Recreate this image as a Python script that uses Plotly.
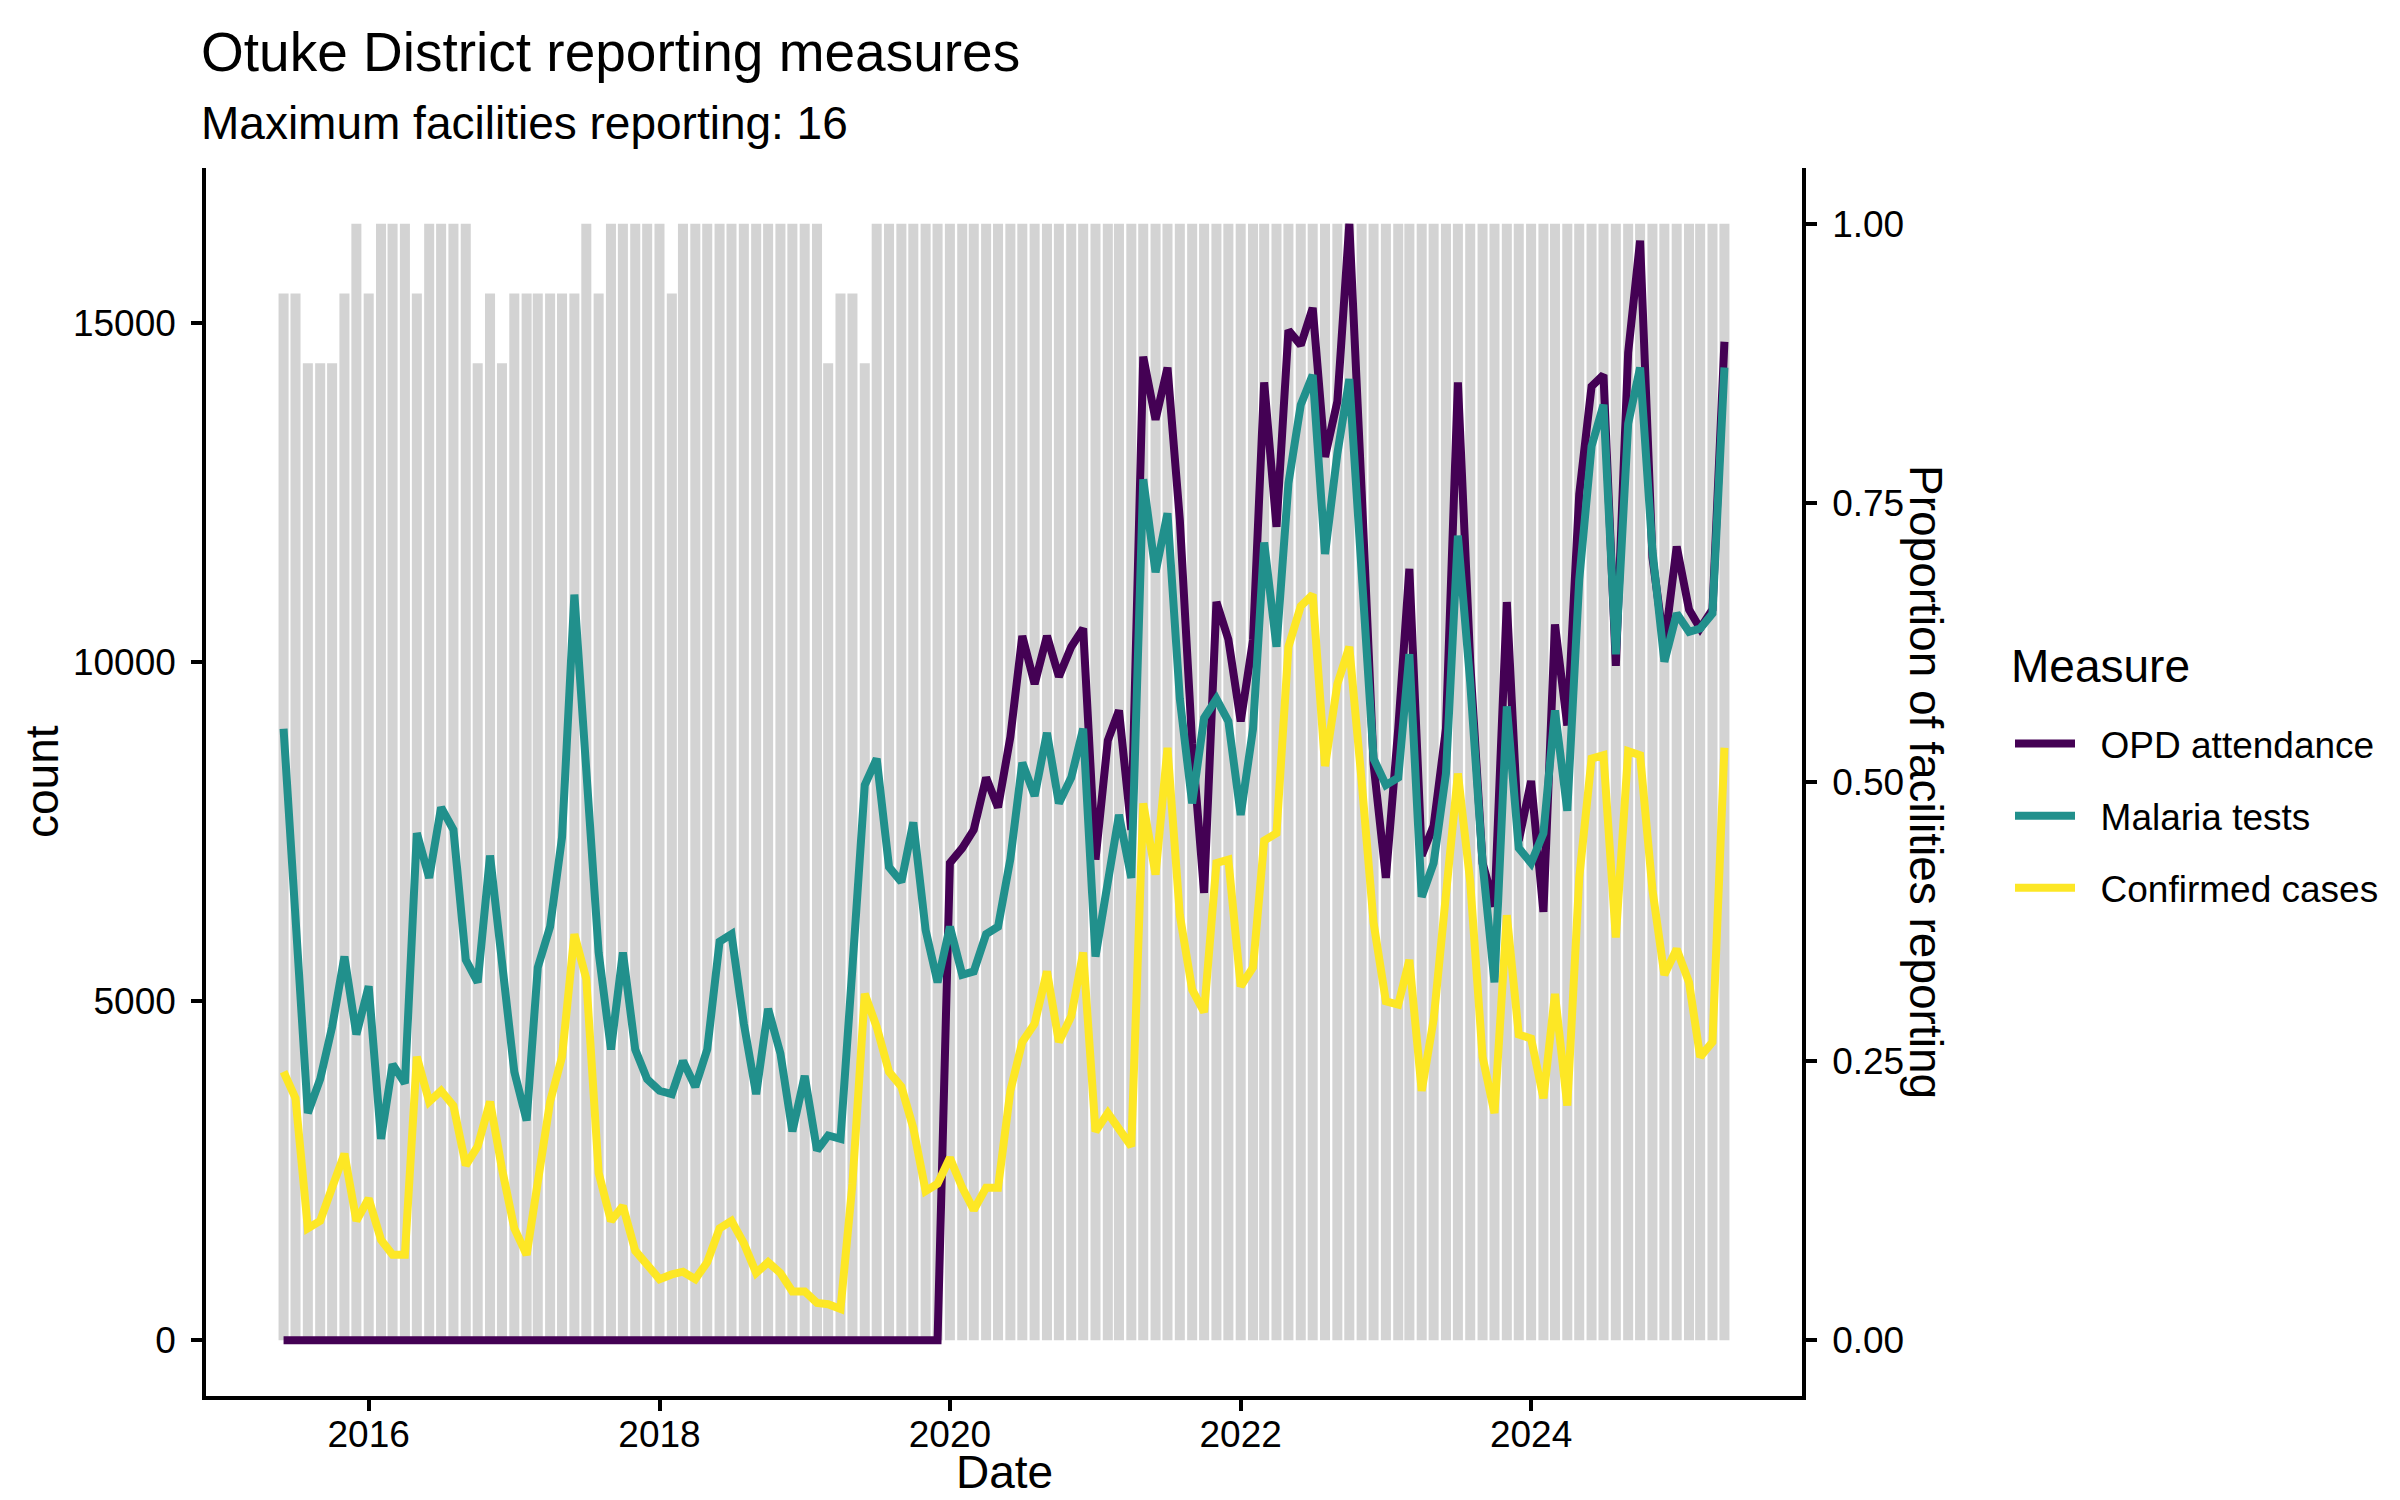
import pandas as pd
import plotly.graph_objects as go

# ---------------- data ----------------
months = pd.date_range("2015-06-01", periods=120, freq="MS")
max_facilities = 16

facilities_reporting = [
    15, 15, 14, 14, 14, 15, 16, 15, 16, 16,
    16, 15, 16, 16, 16, 16, 14, 15, 14, 15,
    15, 15, 15, 15, 15, 16, 15, 16, 16, 16,
    16, 16, 15, 16, 16, 16, 16, 16, 16, 16,
    16, 16, 16, 16, 16, 14, 15, 15, 14, 16,
    16, 16, 16, 16, 16, 16, 16, 16, 16, 16,
    16, 16, 16, 16, 16, 16, 16, 16, 16, 16,
    16, 16, 16, 16, 16, 16, 16, 16, 16, 16,
    16, 16, 16, 16, 16, 16, 16, 16, 16, 16,
    16, 16, 16, 16, 16, 16, 16, 16, 16, 16,
    16, 16, 16, 16, 16, 16, 16, 16, 16, 16,
    16, 16, 16, 16, 16, 16, 16, 16, 16, 16,
]

opd_attendance = [
    0, 0, 0, 0, 0, 0, 0, 0, 0, 0,
    0, 0, 0, 0, 0, 0, 0, 0, 0, 0,
    0, 0, 0, 0, 0, 0, 0, 0, 0, 0,
    0, 0, 0, 0, 0, 0, 0, 0, 0, 0,
    0, 0, 0, 0, 0, 0, 0, 0, 0, 0,
    0, 0, 0, 0, 0, 7040, 7260, 7530, 8300, 7860,
    8900, 10390, 9680, 10390, 9790, 10230, 10500, 7090, 8850, 9290,
    7530, 14510, 13580, 14350, 12100, 8800, 6600, 10890, 10340, 9130,
    10330, 14130, 12000, 14900, 14680, 15230, 13030, 13850, 16470, 12530,
    8500, 6820, 9020, 11380, 7150, 7590, 9020, 14130, 10000, 7040,
    6400, 10890, 7370, 8250, 6320, 10560, 9070, 12480, 14070, 14240,
    9950, 14570, 16220, 11550, 10230, 11710, 10780, 10500, 10780, 14730,
]

malaria_tests = [
    9020, 6300, 3350, 3850, 4620, 5660, 4510, 5220, 2970, 4070,
    3790, 7480, 6820, 7860, 7530, 5610, 5280, 7150, 5610, 3960,
    3240, 5500, 6100, 7420, 11000, 8190, 5720, 4290, 5720, 4290,
    3850, 3680, 3630, 4120, 3740, 4290, 5880, 5990, 4670, 3630,
    4890, 4230, 3080, 3900, 2800, 3020, 2970, 5500, 8190, 8580,
    6980, 6760, 7640, 6050, 5280, 6100, 5390, 5440, 5990, 6100,
    7100, 8520, 8030, 8960, 7920, 8300, 9020, 5660, 6710, 7750,
    6820, 12700, 11330, 12200, 9460, 7920, 9180, 9460, 9130, 7750,
    9020, 11770, 10230, 12640, 13800, 14240, 11600, 13080, 14180, 11330,
    8580, 8190, 8300, 10120, 6540, 7040, 8360, 11870, 9700, 7040,
    5280, 9350, 7260, 7040, 7480, 9290, 7810, 11220, 13190, 13800,
    10120, 13520, 14350, 11650, 10010, 10720, 10450, 10500, 10720, 14350,
]

confirmed_cases = [
    3960, 3570, 1650, 1760, 2250, 2750, 1760, 2090, 1480, 1260,
    1260, 4180, 3520, 3680, 3460, 2580, 2860, 3520, 2530, 1650,
    1260, 2420, 3520, 4180, 5990, 5330, 2470, 1760, 1980, 1320,
    1100, 900, 970, 1010, 900, 1150, 1650, 1760, 1430, 990,
    1150, 990, 720, 720, 550, 530, 460, 2310, 5110, 4620,
    3960, 3740, 3130, 2200, 2310, 2690, 2250, 1920, 2250, 2250,
    3680, 4400, 4670, 5440, 4400, 4780, 5720, 3080, 3350, 3130,
    2860, 7920, 6870, 8740, 6270, 5170, 4840, 7040, 7090, 5220,
    5500, 7370, 7480, 10230, 10830, 11000, 8470, 9680, 10230, 8250,
    6160, 5000, 4950, 5610, 3680, 4730, 6600, 8360, 6760, 4180,
    3350, 6270, 4510, 4450, 3570, 5110, 3460, 6820, 8580, 8630,
    5940, 8690, 8630, 6650, 5390, 5770, 5280, 4180, 4400, 8740,
]

series_names = ["OPD attendance", "Malaria tests", "Confirmed cases"]
series_values = [opd_attendance, malaria_tests, confirmed_cases]
series_colors = ["#440154", "#21908C", "#FDE725"]

x_tick_years = ["2016", "2018", "2020", "2022", "2024"]
count_ticks = [0, 5000, 10000, 15000]
prop_ticks = [0.0, 0.25, 0.5, 0.75, 1.0]

# ---------------- figure ----------------
W, H = 2400, 1500
L, R, T, B = 198, 606, 160, 112
pw, ph = W - L - R, H - T - B

def px_x(px):
    return (px - L) / pw

def px_y(py):
    return (H - B - py) / ph

FONT = "Liberation Sans, Arial, sans-serif"
count_max = max(max(v) for v in series_values)
proportion = [f / max_facilities for f in facilities_reporting]
bar_width_ms = 25.2 * 24 * 3600 * 1000
NB = "\u00a0\u00a0"

fig = go.Figure()
fig.add_trace(go.Bar(
    x=months, y=proportion, yaxis="y",
    marker=dict(color="#D3D3D3", line=dict(width=0)),
    width=[bar_width_ms] * len(months),
    showlegend=False, hoverinfo="skip",
))
for name, vals, col in zip(series_names, series_values, series_colors):
    fig.add_trace(go.Scatter(
        x=months, y=vals, yaxis="y2", mode="lines", name=NB + name,
        legendgroup=name,
        line=dict(color=col, width=8),
    ))

axis_common = dict(
    showline=True, linecolor="black", linewidth=3.5,
    ticks="outside", ticklen=11, tickwidth=3.5, tickcolor="black",
    showgrid=False, zeroline=False, automargin=False,
    tickfont=dict(family=FONT, size=37, color="black"),
)

def text_ann(text, x, y, size, xanchor="left", angle=0):
    return dict(text=text, xref="paper", yref="paper", x=x, y=y,
                xanchor=xanchor, yanchor="middle", textangle=angle,
                showarrow=False, font=dict(family=FONT, size=size, color="black"))

fig.update_layout(
    width=W, height=H,
    margin=dict(l=L, r=R, t=T, b=B, pad=0),
    paper_bgcolor="white", plot_bgcolor="white",
    font=dict(family=FONT, color="black"),
    xaxis=dict(
        type="date", range=["2014-11-18", "2025-11-12"],
        tickvals=[f"{y}-01-01" for y in x_tick_years],
        ticktext=x_tick_years,
        ticklabelstandoff=-8,
        **axis_common,
    ),
    yaxis=dict(
        side="right", range=[-0.05, 1.05],
        tickvals=prop_ticks, ticktext=[f"{v:.2f}" for v in prop_ticks],
        ticklabelstandoff=8,
        **axis_common,
    ),
    yaxis2=dict(
        side="left", overlaying="y", anchor="x",
        range=[-0.05 * count_max, 1.05 * count_max],
        tickvals=count_ticks, ticktext=[str(v) for v in count_ticks],
        ticklabelstandoff=8,
        **axis_common,
    ),
    legend=dict(
        x=px_x(2002), y=px_y(705), xanchor="left", yanchor="top",
        font=dict(family=FONT, size=37, color="black"),
        itemwidth=60, tracegroupgap=21, bgcolor="rgba(0,0,0,0)",
    ),
    annotations=[
        text_ann("Otuke District reporting measures", px_x(191), px_y(44), 55),
        text_ann("Maximum facilities reporting: 16", px_x(191), px_y(115), 46),
        text_ann("Date", 0.5, px_y(1464), 46, xanchor="center"),
        text_ann("count", px_x(34), 0.5, 46, xanchor="center", angle=-90),
        text_ann("Proportion of facilities reporting", px_x(1918), 0.5, 46,
                 xanchor="center", angle=90),
        text_ann("Measure", px_x(2001), px_y(658), 46),
    ],
)

fig.write_html("out.html")
